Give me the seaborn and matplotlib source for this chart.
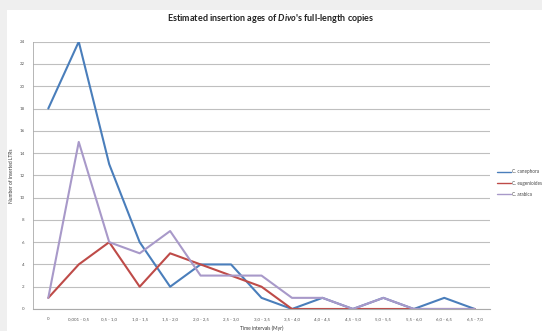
import matplotlib
matplotlib.use("Agg")
import matplotlib.pyplot as plt
import seaborn as sns
import pandas as pd
from matplotlib.patches import Rectangle

categories = ["0", "0,001 - 0,5", "0,5 - 1,0", "1,0 - 1,5", "1,5 - 2,0", "2,0 - 2,5",
              "2,5 - 3,0", "3,0 - 3,5", "3,5 - 4,0", "4,0 - 4,5", "4,5 - 5,0",
              "5,0 - 5,5", "5,5 - 6,0", "6,0 - 6,5", "6,5 - 7,0"]
canephora = [18, 24, 13, 6, 2, 4, 4, 1, 0, 1, 0, 1, 0, 1, 0]
eugenioides = [1, 4, 6, 2, 5, 4, 3, 2, 0, 0, 0, 0, 0, 0, 0]
arabica = [1, 15, 6, 5, 7, 3, 3, 3, 1, 1, 0, 1, 0, 0, 0]
series_names = ["C. canephora", "C. eugenioides", "C. arabica"]
colors = ["#4a7ebb", "#be4b48", "#a899c9"]

rows = []
for name, vals in zip(series_names, [canephora, eugenioides, arabica]):
    for c, v in zip(categories, vals):
        rows.append({"interval": c, "count": v, "species": name})
df = pd.DataFrame(rows)

sns.set_theme(style="white")
plt.rcParams['font.family'] = ['Lato', 'DejaVu Sans']
plt.rcParams['mathtext.fontset'] = 'custom'
plt.rcParams['mathtext.bfit'] = 'Lato:bold:italic'

fig = plt.figure(figsize=(5.42, 3.31), dpi=100)
bg = fig.add_axes([0, 0, 1, 1], zorder=-10)
bg.set_facecolor("#efefef")
bg.add_patch(Rectangle((0.012, 0.0), 0.988, 0.97, transform=bg.transAxes,
                       facecolor="white", edgecolor="none"))
bg.set_xticks([]); bg.set_yticks([])
for s in bg.spines.values():
    s.set_visible(False)

ax = fig.add_axes([0.061, 0.0665, 0.843, 0.8075])
ax.set_facecolor("none")

sns.lineplot(data=df, x="interval", y="count", hue="species", palette=colors,
             hue_order=series_names, sort=False, linewidth=1.5, ax=ax, legend=True)

ax.set_xlim(-0.5, len(categories) - 0.5)
ax.set_ylim(0, 24)
ax.set_yticks(range(0, 25, 2))
ax.tick_params(axis='y', labelsize=3.2, length=0, pad=6, colors="#555555")
ax.tick_params(axis='x', labelsize=3.2, length=0, pad=6, colors="#555555")
ax.set_xticks(range(len(categories)))
ax.set_xticklabels(categories)
ax.set_xticks([i - 0.5 for i in range(len(categories) + 1)], minor=True)
ax.tick_params(axis='x', which='minor', length=2, color="#aaaaaa", width=0.6)
ax.grid(axis='y', color="#bfbfbf", linewidth=0.8)
ax.set_axisbelow(True)
for s in ["top", "right"]:
    ax.spines[s].set_visible(False)
ax.spines["left"].set_color("#aaaaaa")
ax.spines["left"].set_linewidth(0.6)
ax.spines["bottom"].set_color("#aaaaaa")
ax.spines["bottom"].set_linewidth(0.8)

ax.set_ylabel("Number of inserted LTRs", fontsize=3.5, color="#333333", labelpad=4)
ax.set_xlabel("Time intervals (Myr)", fontsize=3.5, color="#333333", labelpad=3)

leg = ax.legend(loc="center left", bbox_to_anchor=(1.015, 0.471), frameon=False,
                fontsize=3.3, handlelength=3.2, handletextpad=0.1, labelspacing=1.4,
                borderaxespad=0.0, borderpad=0.0)
for h in leg.get_lines():
    h.set_linewidth(1.0)
for t in leg.get_texts():
    t.set_color("#444444")

fig.text(0.5, 0.945, r"Estimated insertion ages of $\mathbfit{Divo}$'s full-length copies",
         ha="center", va="center", fontsize=6.5, fontweight="bold", color="#222222")

fig.savefig("out.png", dpi=100)
